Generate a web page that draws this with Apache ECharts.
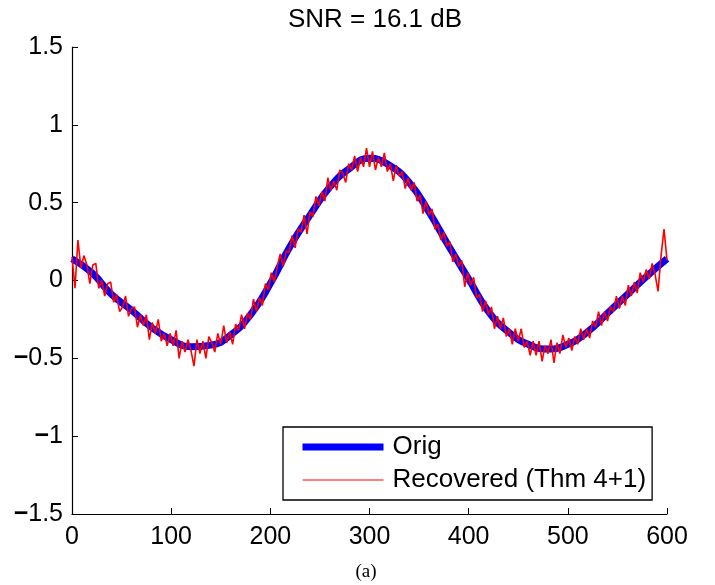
<!DOCTYPE html>
<html>
<head>
<meta charset="utf-8">
<script src="https://cdn.jsdelivr.net/npm/echarts@6/dist/echarts.min.js"></script>
<style>
  html, body { margin: 0; padding: 0; background: #fff; }
  #chart { width: 715px; height: 585px; }
</style>
</head>
<body>
<div id="chart"></div>
<script>
// original signal, read every 20 samples
var origX = [0, 20, 40, 60, 80, 100, 120, 140, 160, 180, 200, 220, 240, 260, 280, 300,
             320, 340, 360, 380, 400, 420, 440, 460, 480, 500, 520, 540, 560, 580, 600];
var origY = [0.14, 0.05, -0.09, -0.19, -0.30, -0.38, -0.425, -0.415, -0.35, -0.22, -0.02, 0.22, 0.42, 0.60, 0.72, 0.785,
             0.74, 0.63, 0.44, 0.22, 0.01, -0.20, -0.33, -0.41, -0.44, -0.41, -0.33, -0.21, -0.09, 0.03, 0.14];

// recovered (noisy) signal, one value every 3 samples, x = 0..600
var recStep = 3;
var recY = [
  0.15, -0.05, 0.26, 0.08, 0.16, 0.10, -0.02, 0.10, 0.11, -0.05,   // 0..27
  0.00, -0.10, -0.02, -0.01, -0.14, -0.09, -0.20, -0.17, -0.10, -0.23, // 30..57
  -0.18, -0.17, -0.30, -0.22, -0.29, -0.22, -0.38, -0.27, -0.34, -0.25, // 60..87
  -0.39, -0.34, -0.42, -0.34, -0.42, -0.32, -0.50, -0.39, -0.46, -0.38, // 90..117
  -0.45, -0.55, -0.38, -0.47, -0.39, -0.50, -0.36, -0.40, -0.46, -0.34, // 120..147
  -0.41, -0.29, -0.40, -0.33, -0.41, -0.28, -0.32, -0.22, -0.31, -0.21, // 150..177
  -0.25, -0.12, -0.20, -0.11, -0.16, -0.02, -0.06, 0.05, -0.01, 0.09,   // 180..207
  0.17, 0.09, 0.19, 0.18, 0.29, 0.21, 0.33, 0.31, 0.42, 0.30,           // 210..237
  0.44, 0.41, 0.54, 0.48, 0.57, 0.51, 0.66, 0.58, 0.64, 0.58,           // 240..267
  0.71, 0.69, 0.63, 0.75, 0.71, 0.80, 0.70, 0.79, 0.73, 0.85,           // 270..297
  0.73, 0.83, 0.71, 0.79, 0.73, 0.82, 0.70, 0.75, 0.64, 0.74,           // 300..327
  0.67, 0.70, 0.59, 0.66, 0.58, 0.63, 0.51, 0.55, 0.43, 0.51,           // 330..357
  0.42, 0.46, 0.33, 0.36, 0.26, 0.31, 0.22, 0.25, 0.12, 0.17,           // 360..387
  0.09, 0.13, -0.04, 0.05, -0.03, 0.02, -0.11, -0.09, -0.20, -0.13,     // 390..417
  -0.22, -0.17, -0.31, -0.23, -0.31, -0.24, -0.36, -0.31, -0.41, -0.31, // 420..447
  -0.39, -0.31, -0.43, -0.39, -0.48, -0.39, -0.48, -0.39, -0.52, -0.42, // 450..477
  -0.47, -0.38, -0.53, -0.40, -0.47, -0.35, -0.43, -0.37, -0.45, -0.36, // 480..507
  -0.41, -0.31, -0.38, -0.31, -0.37, -0.26, -0.30, -0.20, -0.29, -0.20, // 510..537
  -0.26, -0.17, -0.20, -0.10, -0.18, -0.10, -0.16, -0.03, -0.10, -0.01, // 540..567
  -0.08, 0.05, -0.01, 0.07, 0.01, 0.11, 0.04, -0.07, 0.16, 0.33,        // 570..597
  0.13                                                                  // 600
];

var xTicks = [0, 100, 200, 300, 400, 500, 600];
var yTicks = [-1.5, -1, -0.5, 0, 0.5, 1, 1.5];

var titleText = 'SNR = 16.1 dB';
var captionText = '(a)';
var legendNames = ['Orig', 'Recovered (Thm 4+1)'];

var origData = origX.map(function (x, i) { return [x, origY[i]]; });
var recData = recY.map(function (v, i) { return [i * recStep, v]; });

var chart = echarts.init(document.getElementById('chart'));
var font = '"Liberation Sans", Arial, Helvetica, sans-serif';

var option = {
  animation: false,
  backgroundColor: '#fff',
  title: [{
    text: titleText,
    left: 370,
    top: 2,
    textAlign: 'center',
    textStyle: { fontFamily: font, fontSize: 26, fontWeight: 'normal', color: '#000' }
  }, {
    text: captionText,
    left: 361,
    top: 558,
    textAlign: 'center',
    textStyle: { fontFamily: '"Liberation Serif", "Times New Roman", serif', fontSize: 19, fontWeight: 'normal', color: '#000' }
  }],
  grid: {
    left: 72, right: 48, top: 47, bottom: 71,
    containLabel: false,
    outerBoundsMode: 'none'
  },
  legend: {
    orient: 'vertical',
    left: 283,
    top: 427,
    data: [
      { name: legendNames[0], itemStyle: { opacity: 0 }, lineStyle: { width: 7, color: '#0000ff' } },
      { name: legendNames[1], itemStyle: { opacity: 0 }, lineStyle: { width: 1, color: '#ff0000' } }
    ],
    borderColor: '#000',
    borderWidth: 1.3,
    borderRadius: 0,
    padding: [7, 6, 7, 16],
    itemWidth: 81,
    itemHeight: 14,
    itemGap: 7,
    backgroundColor: '#fff',
    textStyle: { fontFamily: font, fontSize: 26, color: '#000', padding: [0, 0, 0, 4] }
  },
  xAxis: {
    type: 'value',
    min: 0, max: 600, interval: 100,
    axisLine: { onZero: false, lineStyle: { color: '#000', width: 1.2 } },
    axisTick: { inside: true, length: 6, lineStyle: { color: '#000' } },
    axisLabel: {
      fontFamily: font, fontSize: 25, color: '#000', margin: 11,
      formatter: function (v) { return xTicks.indexOf(v) >= 0 ? String(v) : ''; }
    },
    splitLine: { show: false }
  },
  yAxis: {
    type: 'value',
    min: -1.5, max: 1.5, interval: 0.5,
    axisLine: { show: true, lineStyle: { color: '#000', width: 1.2 } },
    axisTick: { show: true, inside: true, length: 6, lineStyle: { color: '#000' } },
    axisLabel: {
      fontFamily: font, fontSize: 25, color: '#000', margin: 9,
      formatter: function (v) {
        if (yTicks.indexOf(v) < 0) { return ''; }
        return v < 0 ? '{m|\u2212}' + String(-v) : String(v);
      },
      rich: { m: { fontFamily: font, fontSize: 25, fontWeight: 'bold', color: '#000' } }
    },
    splitLine: { show: false }
  },
  series: [{
    name: legendNames[0],
    type: 'line',
    data: origData,
    smooth: true,
    symbol: 'none',
    lineStyle: { color: '#0000ff', width: 7 },
    itemStyle: { color: '#0000ff' },
    z: 2
  }, {
    name: legendNames[1],
    type: 'line',
    data: recData,
    symbol: 'none',
    lineStyle: { color: '#ff0000', width: 1.6 },
    itemStyle: { color: '#ff0000' },
    z: 3
  }]
};

chart.setOption(option);
window.onresize = chart.resize;
</script>
</body>
</html>
